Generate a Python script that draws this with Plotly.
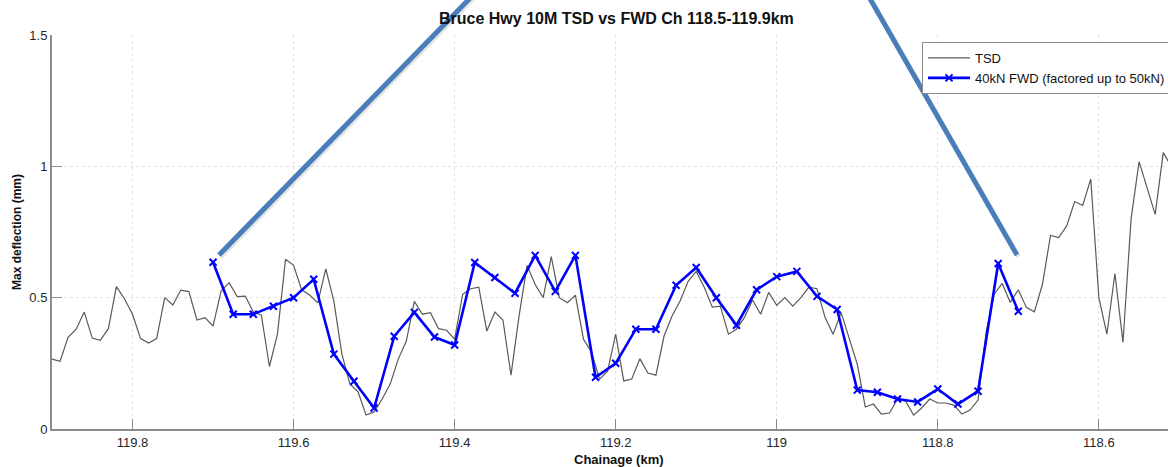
import numpy as np
import plotly.graph_objects as go

# TSD survey: 10 m intervals from Ch 119.90 km down to 118.50 km
tsd_chainage = np.round(np.arange(119.90, 118.495, -0.01), 2)
tsd_deflection = [
    0.266, 0.258, 0.349, 0.380, 0.445, 0.346, 0.338, 0.382, 0.542, 0.496,
    0.437, 0.344, 0.327, 0.344, 0.500, 0.472, 0.529, 0.523, 0.415, 0.424,
    0.392, 0.525, 0.557, 0.504, 0.506, 0.445, 0.433, 0.238, 0.361, 0.646,
    0.623, 0.530, 0.510, 0.480, 0.610, 0.487, 0.285, 0.171, 0.142, 0.053,
    0.065, 0.114, 0.171, 0.266, 0.335, 0.486, 0.437, 0.443, 0.382, 0.376,
    0.342, 0.513, 0.534, 0.540, 0.373, 0.445, 0.415, 0.205, 0.430, 0.623,
    0.550, 0.500, 0.656, 0.500, 0.481, 0.509, 0.342, 0.292, 0.190, 0.220,
    0.361, 0.183, 0.190, 0.268, 0.213, 0.205, 0.353, 0.430, 0.487, 0.562,
    0.600, 0.540, 0.464, 0.468, 0.361, 0.380, 0.425, 0.491, 0.437, 0.520,
    0.471, 0.500, 0.468, 0.500, 0.540, 0.534, 0.425, 0.361, 0.443, 0.342,
    0.247, 0.084, 0.095, 0.057, 0.061, 0.114, 0.106, 0.053, 0.080, 0.114,
    0.099, 0.099, 0.091, 0.057, 0.072, 0.110, 0.368, 0.513, 0.554, 0.482,
    0.530, 0.463, 0.446, 0.551, 0.737, 0.729, 0.772, 0.866, 0.851, 0.952,
    0.501, 0.361, 0.592, 0.330, 0.798, 1.018, 0.919, 0.817, 1.052, 1.000,
    0.980,
]

# FWD test points: 25 m intervals from Ch 119.70 km down to 118.70 km
fwd_chainage = np.round(np.arange(119.70, 118.695, -0.025), 3)
fwd_deflection = [
    0.635, 0.437, 0.437, 0.467, 0.500, 0.570, 0.285, 0.182, 0.080, 0.353,
    0.444, 0.350, 0.320, 0.634, 0.577, 0.517, 0.661, 0.524, 0.661, 0.197,
    0.250, 0.380, 0.380, 0.547, 0.615, 0.500, 0.395, 0.530, 0.580, 0.600,
    0.505, 0.455, 0.148, 0.140, 0.114, 0.103, 0.152, 0.095, 0.144, 0.630,
    0.448,
]

x_ticks = [119.8, 119.6, 119.4, 119.2, 119.0, 118.8, 118.6]
x_tick_labels = ["119.8", "119.6", "119.4", "119.2", "119", "118.8", "118.6"]
y_ticks = [0, 0.5, 1, 1.5]
y_tick_labels = ["0", "0.5", "1", "1.5"]

FONT = "Liberation Sans, Arial, sans-serif"
W, H = 1168, 467
M_L, M_R, M_T, M_B = 52, 0, 35, 38
PLOT_W = W - M_L - M_R
PLOT_H = H - M_T - M_B
KM_PER_PX = 1.2 / 966.3


def px_x(x):
    return (x - M_L) / PLOT_W


def px_y(y):
    return (H - M_B - y) / PLOT_H


fig = go.Figure()

fig.add_trace(go.Scatter(
    x=tsd_chainage, y=tsd_deflection, mode="lines", name="TSD",
    line=dict(color="#5a5a5a", width=1.2),
))
fig.add_trace(go.Scatter(
    x=fwd_chainage, y=fwd_deflection, mode="lines+markers",
    name="40kN FWD (factored up to 50kN)",
    line=dict(color="#0000ff", width=2.6),
    marker=dict(symbol="x-thin", size=7, color="#0000ff",
                line=dict(color="#0000ff", width=2)),
))

axis_common = dict(
    showline=True, linecolor="#8c8c8c", linewidth=2,
    ticks="inside", ticklen=10, tickcolor="#8c8c8c", tickwidth=1.3,
    showgrid=True, gridcolor="#e2e2e2", gridwidth=1, griddash="dot",
    zeroline=False, mirror=False,
    tickfont=dict(family=FONT, size=13, color="#262626"),
)

fig.update_xaxes(
    range=[119.9, 119.9 - PLOT_W * KM_PER_PX],
    tickvals=x_ticks, ticktext=x_tick_labels, **axis_common,
)
fig.update_yaxes(
    range=[0, 1.5], tickvals=y_ticks, ticktext=y_tick_labels, **axis_common,
)

# Callout lines (with a soft drop shadow)
callouts = [((219, 255), (478, -10)), ((1017, 255), (865, -10))]
shapes = []
for (x0, y0), (x1, y1) in callouts:
    shapes.append(dict(
        type="line", xref="paper", yref="paper",
        x0=px_x(x0 + 1.5), y0=px_y(y0 + 2), x1=px_x(x1 + 1.5), y1=px_y(y1 + 2),
        line=dict(color="rgba(0,0,0,0.10)", width=5),
    ))
    shapes.append(dict(
        type="line", xref="paper", yref="paper",
        x0=px_x(x0), y0=px_y(y0), x1=px_x(x1), y1=px_y(y1),
        line=dict(color="#4a7ebb", width=5),
    ))

annotations = [
    dict(text="<b>Bruce Hwy 10M TSD vs FWD Ch 118.5-119.9km</b>",
         xref="paper", yref="paper", x=px_x(616), y=px_y(18),
         xanchor="center", yanchor="middle", showarrow=False,
         font=dict(family=FONT, size=16, color="#111111")),
    dict(text="<b>Chainage (km)</b>",
         xref="paper", yref="paper", x=px_x(619), y=px_y(459),
         xanchor="center", yanchor="middle", showarrow=False,
         font=dict(family=FONT, size=13, color="#111111")),
    dict(text="<b>Max deflection (mm)</b>", textangle=-90,
         xref="paper", yref="paper", x=px_x(17), y=0.5,
         xanchor="center", yanchor="middle", showarrow=False,
         font=dict(family=FONT, size=12, color="#111111")),
]

fig.update_layout(
    width=W, height=H,
    margin=dict(l=M_L, r=M_R, t=M_T, b=M_B, autoexpand=False),
    paper_bgcolor="white", plot_bgcolor="white",
    font=dict(family=FONT, size=12, color="#111111"),
    showlegend=True,
    legend=dict(
        x=px_x(922), y=px_y(42), xanchor="left", yanchor="top",
        bgcolor="white", bordercolor="#8c8c8c", borderwidth=1,
        font=dict(family=FONT, size=13, color="#111111"),
        tracegroupgap=0, itemwidth=42,
    ),
    shapes=shapes,
    annotations=annotations,
)

fig.write_html("out.html")
